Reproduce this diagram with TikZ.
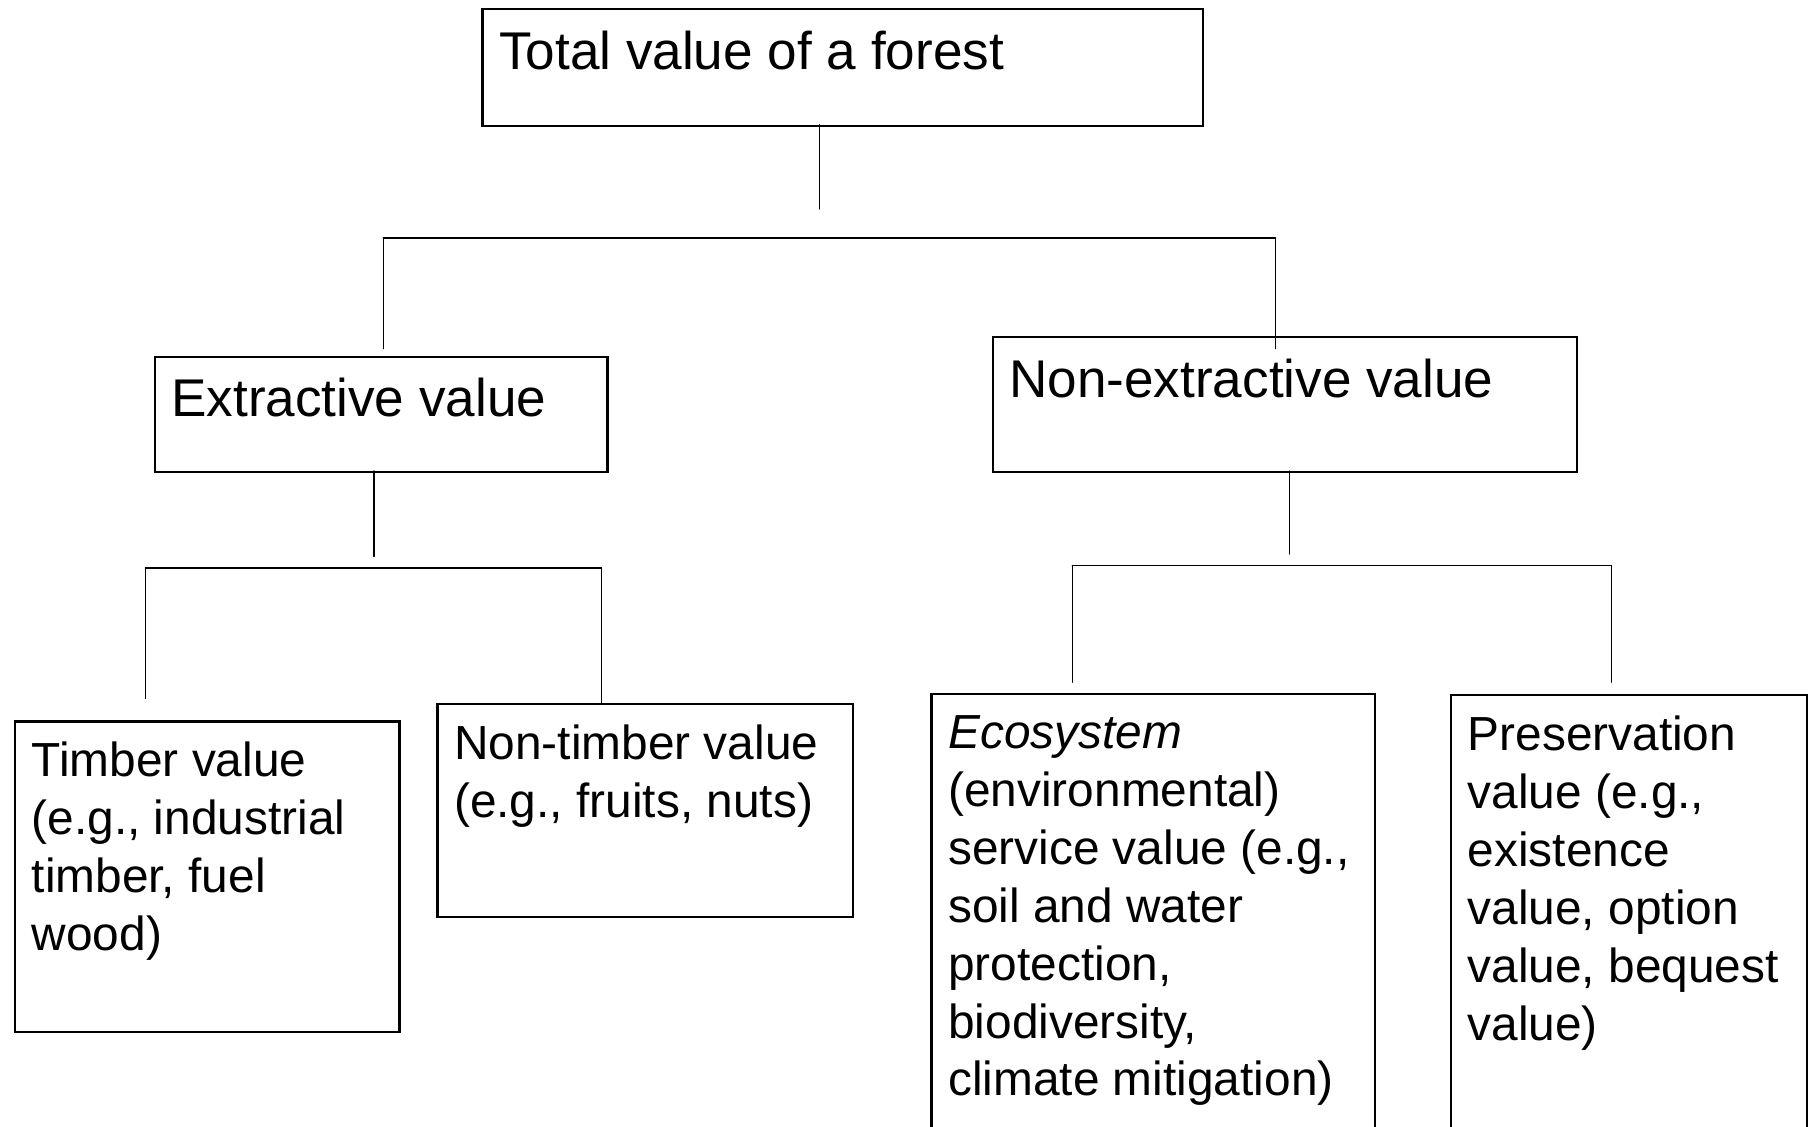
\documentclass[tikz,border=0pt]{standalone}
\usepackage{fontspec}
\setmainfont{Liberation Sans}
\usepackage{tkz-euclide}
\tikzset{>=stealth}
\tikzset{valbox/.style={draw, line width=0.65pt, anchor=north west, inner xsep=0.167cm, inner ysep=0pt}}
\newcommand{\bigval}{\fontsize{15.1pt}{17pt}\selectfont}
\newcommand{\smallval}{\fontsize{13.6pt}{16.45pt}\selectfont}
\newcommand{\valtext}[4]{\parbox[c][#2][t]{#1}{\raggedright\rule{0pt}{#3}#4}}

\begin{document}
\begin{tikzpicture}[x=0.01cm, y=0.01cm]
    \useasboundingbox (0,0) rectangle (1810,-1126);
    \node[valbox] (total) at (481.3,-8.1) {\bigval\valtext{6.869cm}{1.166cm}{0.60cm}{Total value of a forest}};
    \node[valbox] (extr) at (153.5,-355.5) {\bigval\valtext{4.191cm}{1.155cm}{0.60cm}{Extractive value}};
    \node[valbox] (nonextr) at (991.5,-335.9) {\bigval\valtext{5.507cm}{1.351cm}{0.60cm}{Non-extractive value}};
    \node[valbox] (timber) at (13.9,-720.3) {\smallval\valtext{3.509cm}{3.105cm}{0.55cm}{Timber value\\(e.g., industrial\\timber, fuel\\wood)}};
    \node[valbox] (nontimber) at (436.3,-703) {\smallval\valtext{3.822cm}{2.124cm}{0.55cm}{Non-timber value\\(e.g., fruits, nuts)}};
    \node[valbox] (eco) at (930.4,-692.6) {\smallval\valtext{4.098cm}{4.474cm}{0.55cm}{\textit{Ecosystem}\\(environmental)\\service value (e.g.,\\soil and water\\protection,\\biodiversity,\\climate mitigation)}};
    \node[valbox] (pres) at (1449.8,-693.7) {\smallval\valtext{3.221cm}{4.463cm}{0.56cm}{Preservation\\value (e.g.,\\existence\\value, option\\value, bequest\\value)}};
    \tkzDefPoints{819.6/-124.7/T1, 819.6/-209/T2, 383.2/-237.8/A1, 1275.5/-237.8/A2, 383.2/-348.6/A3, 1275.5/-348.6/A4}
    \tkzDefPoints{374/-471/E1, 374/-556.4/E2, 145.4/-567.9/B1, 601.4/-567.9/B2, 145.4/-698.4/B3, 601.4/-704.1/B4}
    \tkzDefPoints{1289.4/-471/N1, 1289.4/-554/N2, 1072.3/-565.6/C1, 1611.4/-565.6/C2, 1072.3/-682.2/C3, 1611.4/-682.2/C4}
    \tkzDrawSegments[line width=0.4pt](T1,T2 A1,A2 A1,A3 A2,A4 E1,E2 B1,B2 B1,B3 B2,B4 N1,N2 C1,C2 C1,C3 C2,C4)
\end{tikzpicture}
\end{document}
